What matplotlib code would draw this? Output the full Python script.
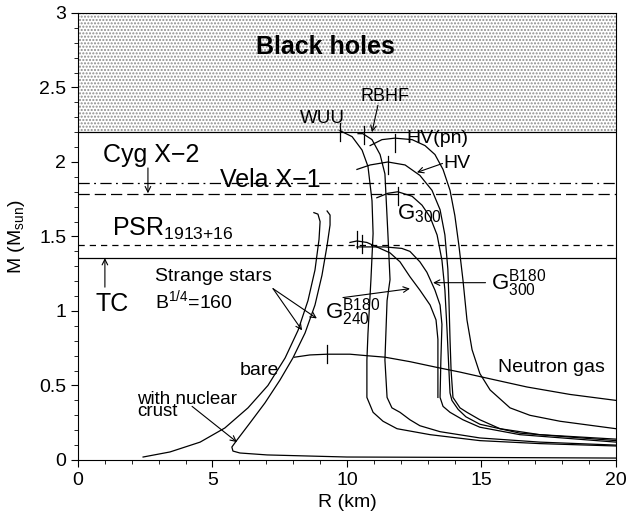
import matplotlib
matplotlib.use('Agg')
import matplotlib.pyplot as plt
from matplotlib.ticker import MultipleLocator, FormatStrFormatter

plt.rcParams['font.family'] = ['Liberation Sans', 'DejaVu Sans']
plt.rcParams['mathtext.fontset'] = 'custom'
plt.rcParams['mathtext.rm'] = 'Liberation Sans'
plt.rcParams['hatch.linewidth'] = 1.0

# mass limits (M_sun)
m_bh = 2.2
m_cyg = 1.86
m_vela = 1.785
m_psr = 1.44
m_tc = 1.355

# nucleon star sequences, R (km) / M (M_sun)
wuu_r = [9.74, 10.19, 10.56, 10.78, 10.93, 10.97, 10.89, 10.78, 10.74, 10.74, 10.97, 11.34, 11.86, 13.09, 14.94, 17.17, 20.0]
wuu_m = [2.21, 2.17, 2.08, 1.97, 1.74, 1.52, 1.21, 0.85, 0.67, 0.42, 0.32, 0.26, 0.21, 0.17, 0.13, 0.11, 0.094]

rbhf_r = [10.41, 10.59, 10.93, 11.23, 11.41, 11.52, 11.60, 11.49, 11.41, 11.49, 11.67, 11.97, 12.34, 12.71, 13.46, 14.94, 17.17, 20.0]
rbhf_m = [2.19, 2.19, 2.15, 2.05, 1.92, 1.52, 1.21, 1.07, 0.67, 0.42, 0.35, 0.32, 0.27, 0.23, 0.19, 0.148, 0.12, 0.10]

hv_r = [10.37, 10.86, 11.52, 12.16, 12.71, 13.16, 13.46, 13.64, 13.75, 13.79, 13.83, 13.87, 13.94, 14.20, 14.46, 14.94, 15.69, 17.17, 20.0]
hv_m = [1.95, 1.98, 2.00, 1.98, 1.91, 1.81, 1.68, 1.51, 1.28, 1.07, 0.81, 0.60, 0.42, 0.35, 0.32, 0.27, 0.21, 0.17, 0.14]

g300_r = [11.11, 11.52, 11.89, 12.42, 12.79, 13.09, 13.35, 13.53, 13.64, 13.72, 13.79, 13.83, 13.90, 14.13, 14.42, 14.94, 16.43, 20.0]
g300_m = [1.76, 1.79, 1.80, 1.77, 1.71, 1.63, 1.51, 1.34, 1.14, 0.87, 0.60, 0.45, 0.40, 0.34, 0.29, 0.24, 0.18, 0.13]

hvpn_r = [10.86, 11.30, 11.78, 12.42, 12.90, 13.27, 13.57, 13.83, 14.01, 14.16, 14.31, 14.46, 14.65, 14.94, 15.32, 16.06, 16.80, 17.92, 20.0]
hvpn_m = [2.11, 2.15, 2.16, 2.15, 2.11, 2.05, 1.95, 1.81, 1.64, 1.44, 1.21, 0.94, 0.74, 0.58, 0.47, 0.35, 0.30, 0.26, 0.21]

g240b_r = [10.11, 10.37, 10.74, 11.23, 11.60, 11.97, 12.34, 12.71, 13.09, 13.31, 13.38, 13.38, 13.38]
g240b_m = [1.46, 1.47, 1.46, 1.42, 1.39, 1.33, 1.23, 1.14, 1.04, 0.94, 0.81, 0.62, 0.42]

g300b_r = [10.37, 10.86, 11.41, 12.04, 12.34, 12.71, 12.97, 13.27, 13.46, 13.53, 13.49, 13.46, 13.57, 13.83, 14.31, 14.94, 16.43, 20.0]
g300b_m = [1.43, 1.43, 1.43, 1.42, 1.40, 1.33, 1.26, 1.14, 1.04, 0.91, 0.67, 0.42, 0.36, 0.32, 0.27, 0.22, 0.17, 0.12]

ngas_r = [8.05, 8.62, 9.26, 10.11, 10.74, 11.41, 12.34, 13.38, 14.20, 14.94, 16.69, 18.29, 20.0]
ngas_m = [0.69, 0.705, 0.71, 0.71, 0.70, 0.69, 0.66, 0.62, 0.59, 0.56, 0.49, 0.44, 0.40]

# strange stars
bare_r = [2.42, 3.42, 4.54, 5.46, 6.32, 7.06, 7.70, 8.18, 8.55, 8.81, 8.96, 9.00, 8.92, 8.77]
bare_m = [0.02, 0.054, 0.12, 0.215, 0.35, 0.50, 0.685, 0.87, 1.07, 1.275, 1.48, 1.60, 1.65, 1.66]

crust_r = [20.0, 14.94, 10.0, 7.03, 6.02, 5.76, 5.72, 5.91, 6.39, 6.95, 7.51, 7.99, 8.44, 8.81, 9.07, 9.26, 9.37, 9.37, 9.26]
crust_m = [0.013, 0.017, 0.02, 0.034, 0.047, 0.06, 0.087, 0.134, 0.248, 0.383, 0.537, 0.685, 0.852, 1.04, 1.24, 1.44, 1.577, 1.644, 1.671]

# maximum mass markers
mark_r = [9.74, 10.63, 11.52, 11.78, 11.89, 10.37, 10.56, 9.26]
mark_m = [2.20, 2.18, 1.98, 2.13, 1.77, 1.48, 1.45, 0.71]

fig, ax = plt.subplots(figsize=(6.26, 5.15), dpi=100)
fig.subplots_adjust(left=0.1246, right=0.984, bottom=0.1068, top=0.9748)

ax.fill_between([0, 20], m_bh, 3, facecolor='white', edgecolor='0.55', hatch='.....', lw=0)
ax.axhline(m_bh, color='k', lw=0.9)
ax.axhline(m_cyg, color='k', lw=0.9, dashes=(9, 3.5, 1.5, 3.5))
ax.axhline(m_vela, color='k', lw=0.9, dashes=(9, 4))
ax.axhline(m_psr, color='k', lw=0.9, dashes=(5, 4))
ax.axhline(m_tc, color='k', lw=0.9)

for r, m in [(wuu_r, wuu_m), (rbhf_r, rbhf_m), (hv_r, hv_m), (g300_r, g300_m),
             (hvpn_r, hvpn_m), (g240b_r, g240b_m), (g300b_r, g300b_m),
             (ngas_r, ngas_m), (bare_r, bare_m), (crust_r, crust_m)]:
    ax.plot(r, m, color='k', lw=0.9)

for r, m in zip(mark_r, mark_m):
    ax.plot([r, r], [m - 0.06, m + 0.06], color='k', lw=0.9)

arr = dict(arrowstyle='->', color='k', lw=0.8, shrinkA=0, shrinkB=0)

ax.text(9.2, 2.77, 'Black holes', fontsize=18, fontweight='bold', ha='center', va='center')
ax.text(9.07, 2.29, 'WUU', fontsize=13.5, ha='center', va='center')
ax.text(11.4, 2.44, 'RBHF', fontsize=13, ha='center', va='center')
ax.annotate('', xy=(10.93, 2.2), xytext=(11.15, 2.38), arrowprops=arr)
ax.text(12.2, 2.16, 'HV(pn)', fontsize=14, ha='left', va='center')
ax.text(13.6, 1.99, 'HV', fontsize=14, ha='left', va='center')
ax.annotate('', xy=(12.6, 1.93), xytext=(13.55, 1.99), arrowprops=arr)
ax.text(11.85, 1.65, 'G$_{\\mathregular{300}}$', fontsize=16, ha='left', va='center')
ax.text(15.35, 1.19, 'G$^{\\mathregular{B180}}_{\\mathregular{300}}$', fontsize=16, ha='left', va='center')
ax.annotate('', xy=(13.2, 1.19), xytext=(15.15, 1.19), arrowprops=arr)
ax.text(9.2, 0.99, 'G$^{\\mathregular{B180}}_{\\mathregular{240}}$', fontsize=16, ha='left', va='center')
ax.annotate('', xy=(12.34, 1.15), xytext=(9.85, 1.09), arrowprops=arr)

ax.text(0.93, 2.05, 'Cyg X\u22122', fontsize=18, ha='left', va='center')
ax.annotate('', xy=(2.6, 1.79), xytext=(2.6, 1.96), arrowprops=arr)
ax.text(5.28, 1.88, 'Vela X\u22121', fontsize=18, ha='left', va='center')
ax.text(1.26, 1.55, 'PSR$_{\\mathregular{1913{+}16}}$', fontsize=18, ha='left', va='center')
ax.text(1.27, 1.05, 'TC', fontsize=18, ha='center', va='center')
ax.annotate('', xy=(1.0, m_tc), xytext=(1.0, 1.16), arrowprops=arr)

ax.text(2.85, 1.23, 'Strange stars', fontsize=14, ha='left', va='center')
ax.text(2.85, 1.07, 'B$^{\\mathregular{1/4}}$=160', fontsize=14, ha='left', va='center')
ax.annotate('', xy=(8.33, 0.87), xytext=(7.25, 1.15), arrowprops=arr)
ax.annotate('', xy=(8.88, 0.95), xytext=(7.25, 1.15), arrowprops=arr)
ax.text(6.0, 0.6, 'bare', fontsize=14, ha='left', va='center')
ax.text(2.2, 0.368, 'with nuclear\ncrust', fontsize=13.5, ha='left', va='center', linespacing=0.62)
ax.annotate('', xy=(5.91, 0.12), xytext=(4.24, 0.36), arrowprops=arr)
ax.text(15.6, 0.62, 'Neutron gas', fontsize=14, ha='left', va='center')

ax.set_xlim(0, 20)
ax.set_ylim(0, 3)
ax.xaxis.set_major_locator(MultipleLocator(5))
ax.xaxis.set_minor_locator(MultipleLocator(1))
ax.yaxis.set_major_locator(MultipleLocator(0.5))
ax.yaxis.set_minor_locator(MultipleLocator(0.1))
ax.yaxis.set_major_formatter(FormatStrFormatter('%g'))
ax.tick_params(which='both', direction='out', top=False, right=False, labelsize=14)
ax.tick_params(which='major', length=5)
ax.tick_params(which='minor', length=3)
ax.set_xlabel('R (km)', fontsize=14, labelpad=4)
ax.set_ylabel('M (M$_{\\mathregular{sun}}$)', fontsize=14, labelpad=9)

fig.savefig('out.png', dpi=100)
